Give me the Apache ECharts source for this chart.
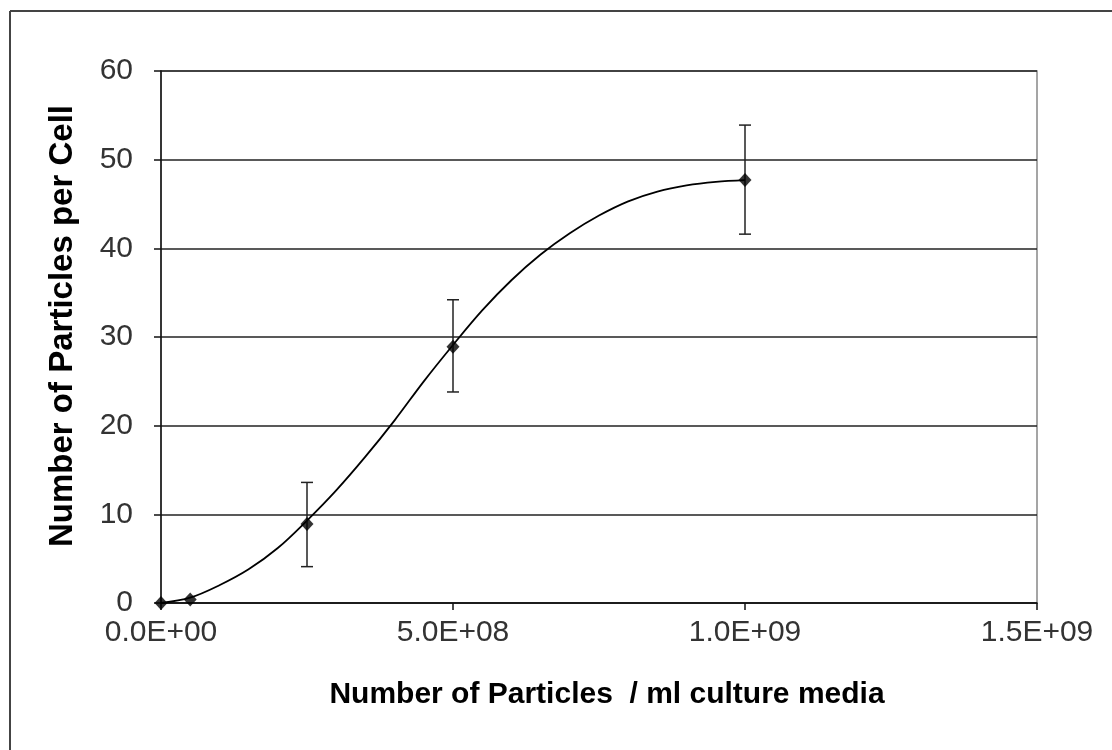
<!DOCTYPE html>
<html>
<head>
<meta charset="utf-8">
<script src="https://cdn.jsdelivr.net/npm/echarts@6/dist/echarts.min.js"></script>
<style>
  html, body { margin: 0; padding: 0; background: #fff; }
  #chart { width: 1112px; height: 750px; }
</style>
</head>
<body>
<div id="chart"></div>
<script>
// measured points (particles / ml, particles per cell)
const concentrations = [0, 5e7, 2.5e8, 5e8, 1e9]
const perCell = [0, 0.4, 8.9, 28.9, 47.7]
const errLow = [null, null, 4.1, 23.8, 41.6]
const errHigh = [null, null, 13.6, 34.2, 53.9]

// fitted curve
const fitX = [0, 5e7, 1e8, 1.5e8, 2e8, 2.5e8, 3e8, 3.5e8, 4e8, 4.5e8, 5e8, 5.5e8, 6e8, 6.5e8, 7e8, 7.5e8, 8e8, 8.5e8, 9e8, 9.5e8, 1e9]
const fitY = [0, 0.6, 2.0, 3.8, 6.2, 9.3, 12.7, 16.5, 20.6, 25.0, 29.1, 33.0, 36.4, 39.3, 41.7, 43.7, 45.3, 46.4, 47.1, 47.5, 47.7]

const chart = echarts.init(document.getElementById('chart'))

const errData = concentrations
  .map((x, i) => [x, errLow[i], errHigh[i]])
  .filter(d => d[1] != null)

const option = {
  animation: false,
  backgroundColor: '#fff',
  textStyle: { fontFamily: 'Liberation Sans, Arial, sans-serif' },
  graphic: [
    { type: 'line', shape: { x1: 10, y1: 11, x2: 1112, y2: 11 }, style: { stroke: '#444', lineWidth: 2 } },
    { type: 'line', shape: { x1: 10, y1: 11, x2: 10, y2: 750 }, style: { stroke: '#444', lineWidth: 2 } }
  ],
  grid: { left: 161, right: 75, top: 71, bottom: 147, show: true, borderColor: '#888', borderWidth: 1.5 },
  xAxis: {
    type: 'value',
    min: 0, max: 1.5e9, interval: 5e8,
    name: 'Number of Particles  / ml culture media',
    nameLocation: 'middle',
    nameGap: 77,
    nameTextStyle: { fontSize: 30, fontWeight: 'bold', color: '#000', padding: [0, 0, 0, 16] },
    axisLine: { show: true, lineStyle: { color: '#111', width: 1.5 } },
    axisTick: { show: true, length: 7, lineStyle: { color: '#111', width: 1.5 } },
    axisLabel: {
      fontSize: 30, color: '#333', margin: 15,
      formatter: v => (v / 1e9 >= 1 ? (v / 1e9).toFixed(1) + 'E+09' : v === 0 ? '0.0E+00' : (v / 1e8).toFixed(1) + 'E+08')
    },
    splitLine: { show: false }
  },
  yAxis: {
    type: 'value',
    min: 0, max: 60, interval: 10,
    name: 'Number of Particles per Cell',
    nameLocation: 'middle',
    nameGap: 82,
    nameTextStyle: { fontSize: 33, fontWeight: 'bold', color: '#000', padding: [0, 0, 0, 22] },
    axisLine: { show: true, lineStyle: { color: '#111', width: 1.5 } },
    axisTick: { show: true, length: 7, lineStyle: { color: '#111', width: 1.5 } },
    axisLabel: { fontSize: 30, color: '#333', margin: 28 },
    splitLine: { show: true, lineStyle: { color: '#222', width: 1.5 } }
  },
  series: [
    {
      name: 'fit',
      type: 'line',
      data: fitX.map((x, i) => [x, fitY[i]]),
      smooth: 0.35,
      symbol: 'none',
      lineStyle: { color: '#000', width: 1.8 },
      z: 3
    },
    {
      name: 'error',
      type: 'custom',
      data: errData,
      renderItem: (params, api) => {
        const lo = api.coord([api.value(0), api.value(1)])
        const hi = api.coord([api.value(0), api.value(2)])
        const cap = 6
        const style = { stroke: '#222', lineWidth: 1.5 }
        return {
          type: 'group',
          children: [
            { type: 'line', shape: { x1: lo[0], y1: lo[1], x2: hi[0], y2: hi[1] }, style },
            { type: 'line', shape: { x1: lo[0] - cap, y1: lo[1], x2: lo[0] + cap, y2: lo[1] }, style },
            { type: 'line', shape: { x1: hi[0] - cap, y1: hi[1], x2: hi[0] + cap, y2: hi[1] }, style }
          ]
        }
      },
      z: 4
    },
    {
      name: 'measured',
      type: 'scatter',
      data: concentrations.map((x, i) => [x, perCell[i]]),
      symbol: 'diamond',
      symbolSize: [13, 14],
      itemStyle: { color: '#000' },
      z: 5
    }
  ]
}

chart.setOption(option)
</script>
</body>
</html>
